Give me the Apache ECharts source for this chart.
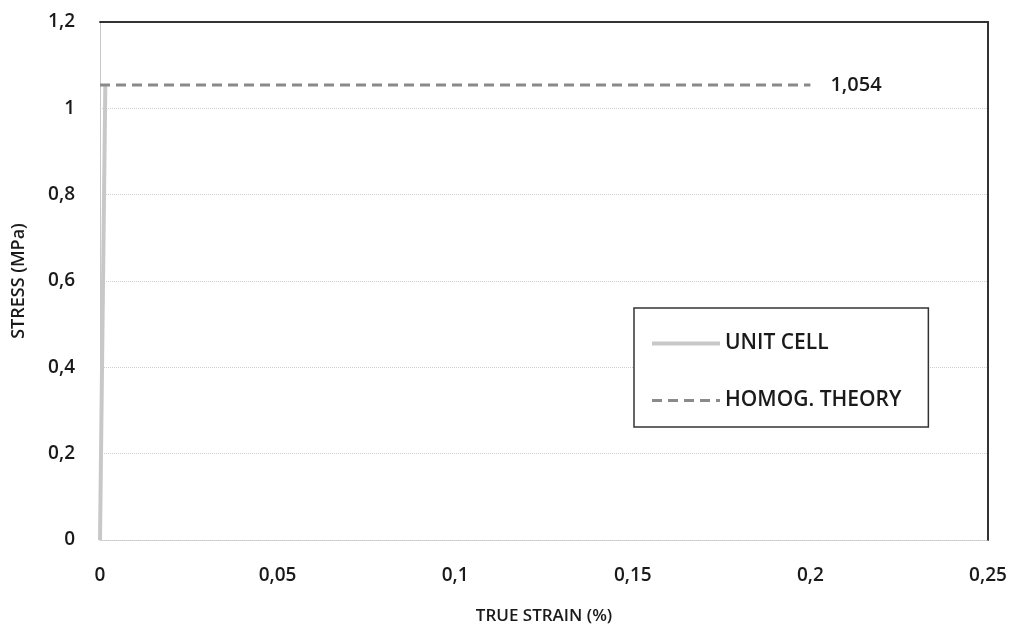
<!DOCTYPE html>
<html>
<head>
<meta charset="utf-8">
<script src="https://cdn.jsdelivr.net/npm/echarts@6/dist/echarts.min.js"></script>
<style>
html,body{margin:0;padding:0;background:#fff;}
#chart{width:1018px;height:625px;}
</style>
</head>
<body>
<div id="chart"></div>
<script>
// Data
const unitCellStrain = [0, 0.0015];
const unitCellStress = [0, 1.054];
const homogStrain = [0, 0.2];
const homogStress = [1.054, 1.054];
const seriesNames = ['UNIT CELL', 'HOMOG. THEORY'];
const xTitle = 'TRUE STRAIN (%)';
const yTitle = 'STRESS (MPa)';

function fmt(v, d) {
  return String(+v.toFixed(d)).replace('.', ',');
}

const FONT = '"Open Sans", "Liberation Sans", sans-serif';
const TXT = '#1a1a1a';
const chart = echarts.init(document.getElementById('chart'));
chart.setOption({
  backgroundColor: '#ffffff',
  animation: false,
  grid: { left: 100, top: 22, right: 30, bottom: 85, containLabel: false, outerBoundsMode: 'none' },
  xAxis: [{
    type: 'value', min: 0, max: 0.25, interval: 0.05,
    name: xTitle, nameLocation: 'middle', nameGap: 68,
    nameTextStyle: { fontFamily: FONT, fontSize: 17, fontWeight: 600, color: TXT },
    axisLine: { show: true, onZero: false, lineStyle: { color: '#c8c8c8', type: 'dotted', width: 1 } },
    axisTick: { show: false },
    splitLine: { show: false },
    axisLabel: { fontFamily: FONT, fontSize: 19, fontWeight: 600, color: TXT, margin: 26,
      formatter: v => fmt(v, 2) }
  }, {
    type: 'value', min: 0, max: 0.25, position: 'top',
    axisLine: { show: true, onZero: false, lineStyle: { color: '#333', width: 2 } },
    axisTick: { show: false }, axisLabel: { show: false }, splitLine: { show: false }
  }],
  yAxis: [{
    type: 'value', min: 0, max: 1.2, interval: 0.2,
    name: yTitle, nameLocation: 'middle', nameGap: 72, nameRotate: 90,
    nameTextStyle: { fontFamily: FONT, fontSize: 18, fontWeight: 600, color: TXT },
    axisLine: { show: true, onZero: false, lineStyle: { color: '#c8c8c8', width: 1 } },
    axisTick: { show: false },
    splitLine: { show: true, lineStyle: { color: '#d0d0d0', type: 'dotted', width: 1 } },
    axisLabel: { fontFamily: FONT, fontSize: 19, fontWeight: 600, color: TXT, margin: 25,
      formatter: v => fmt(v, 1) }
  }, {
    type: 'value', min: 0, max: 1.2, position: 'right',
    axisLine: { show: true, onZero: false, lineStyle: { color: '#333', width: 2 } },
    axisTick: { show: false }, axisLabel: { show: false }, splitLine: { show: false }
  }],
  legend: {
    left: 634, top: 308,
    orient: 'vertical',
    backgroundColor: '#fff',
    borderColor: '#333', borderWidth: 1.5,
    padding: [25, 27, 16, 16],
    itemGap: 36,
    itemWidth: 68, itemHeight: 14,
    itemStyle: { opacity: 0 },
    textStyle: { fontFamily: FONT, fontSize: 21, fontWeight: 600, color: TXT },
    data: [
      { name: seriesNames[0], lineStyle: { color: '#c8c8c8', width: 4 } },
      { name: seriesNames[1], lineStyle: { color: '#8a8a8a', width: 3, type: [10, 6] } }
    ]
  },
  series: [{
    name: seriesNames[0], type: 'line', symbol: 'none',
    data: unitCellStrain.map((x, i) => [x, unitCellStress[i]]),
    lineStyle: { color: '#c8c8c8', width: 4 },
    itemStyle: { color: '#c8c8c8' },
    z: 2
  }, {
    name: seriesNames[1], type: 'line', symbol: 'none',
    data: homogStrain.map((x, i) => [x, homogStress[i]]),
    lineStyle: { color: '#8a8a8a', width: 3, type: [10, 6] },
    itemStyle: { color: '#8a8a8a' },
    endLabel: { show: true, formatter: p => fmt(p.value[1], 3), distance: 20,
      fontFamily: FONT, fontSize: 20, fontWeight: 600, color: TXT },
    z: 3
  }]
});
</script>
</body>
</html>
